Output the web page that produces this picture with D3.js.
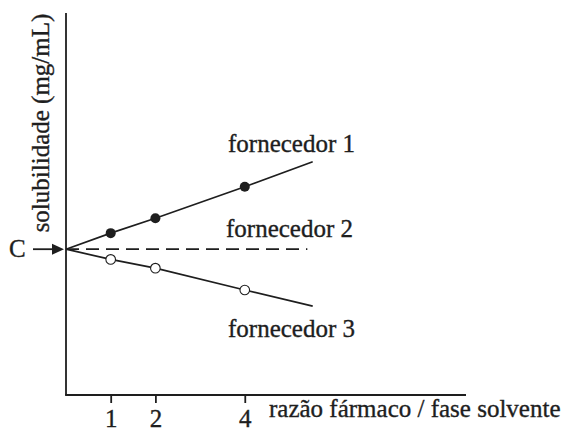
<!DOCTYPE html>
<html>
<head>
<meta charset="utf-8">
<script src="https://cdn.jsdelivr.net/npm/d3@7"></script>
<style>
  html, body { margin: 0; padding: 0; background: #fff; }
  svg text { font-family: "Liberation Serif", "Times New Roman", serif; fill: #1e1e1e; stroke: #1e1e1e; stroke-width: 0.35px; }
</style>
</head>
<body>
<svg id="chart" width="569" height="430"></svg>
<script>
// ---- data ----
const xTicks = [1, 2, 4];
const xTickLabels = ["1", "2", "4"];
const pointX = [1, 2, 4];
const supplier1 = [5.55, 6.06, 7.14];
const supplier3 = [4.65, 4.35, 3.60];
const startValue = 5.0;          // C
const lineEndX = 5.52;
const supplier1End = 8.0;
const supplier3End = 3.05;
const dashEndX = 5.4;
const seriesNames = ["fornecedor 1", "fornecedor 2", "fornecedor 3"];
const yTitle = "solubilidade (mg/mL)";
const xTitle = "razão fármaco / fase solvente";
const cLabel = "C";

// ---- scales ----
const svg = d3.select("#chart");
const x = d3.scaleLinear().domain([0, 8.95]).range([66, 466]);
const y = d3.scaleLinear().domain([0, 13.1]).range([395, 13]);
const ink = "#1e1e1e";

// axes lines
svg.append("line").attr("x1", x(0)).attr("x2", x(0)).attr("y1", y(13.1)).attr("y2", y(0))
  .attr("stroke", ink).attr("stroke-width", 1.8);
svg.append("line").attr("x1", x(0) - 0.9).attr("x2", x(8.95)).attr("y1", y(0)).attr("y2", y(0))
  .attr("stroke", ink).attr("stroke-width", 1.8);

// x ticks via d3 axis
const xAxis = d3.axisBottom(x).tickValues(xTicks).tickSize(8)
  .tickFormat((d, i) => xTickLabels[i]);
const gx = svg.append("g").attr("transform", `translate(0,${y(0)})`).call(xAxis);
gx.select(".domain").remove();
gx.selectAll(".tick line").attr("stroke", ink).attr("stroke-width", 1.8);
gx.selectAll(".tick text").attr("font-size", 25).attr("dy", 0).attr("y", 32)
  .style("font-family", "'Liberation Serif', serif").attr("fill", ink);

// lines
const line = d3.line().x(d => x(d[0])).y(d => y(d[1]));
const s1 = [[0, startValue], ...pointX.map((v, i) => [v, supplier1[i]]), [lineEndX, supplier1End]];
const s3 = [[0, startValue], ...pointX.map((v, i) => [v, supplier3[i]]), [lineEndX, supplier3End]];
svg.append("path").attr("d", line(s1)).attr("fill", "none").attr("stroke", ink).attr("stroke-width", 1.7);
svg.append("path").attr("d", line(s3)).attr("fill", "none").attr("stroke", ink).attr("stroke-width", 1.7);
svg.append("path").attr("d", line([[0, startValue], [dashEndX, startValue]]))
  .attr("fill", "none").attr("stroke", ink).attr("stroke-width", 1.7)
  .attr("stroke-dasharray", "13,7");

// markers
svg.selectAll(".p1").data(pointX).enter().append("circle")
  .attr("cx", d => x(d)).attr("cy", (d, i) => y(supplier1[i])).attr("r", 5)
  .attr("fill", ink);
svg.selectAll(".p3").data(pointX).enter().append("circle")
  .attr("cx", d => x(d)).attr("cy", (d, i) => y(supplier3[i])).attr("r", 4.8)
  .attr("fill", "#fff").attr("stroke", ink).attr("stroke-width", 1.1);

// series labels
const labelPos = [[228, 152], [226, 237], [228, 337]];
svg.selectAll(".lbl").data(seriesNames).enter().append("text")
  .attr("x", (d, i) => labelPos[i][0]).attr("y", (d, i) => labelPos[i][1])
  .attr("font-size", 25).text(d => d);

// y title
svg.append("text").attr("transform", `translate(49,123) rotate(-90)`)
  .attr("text-anchor", "middle").attr("font-size", 25).text(yTitle);

// x title
svg.append("text").attr("x", 269).attr("y", 417).attr("font-size", 25).text(xTitle);

// C with arrow
svg.append("text").attr("x", 9).attr("y", 257).attr("font-size", 25).text(cLabel);
svg.append("line").attr("x1", 33).attr("x2", 54).attr("y1", y(startValue)).attr("y2", y(startValue))
  .attr("stroke", ink).attr("stroke-width", 1.8);
svg.append("path")
  .attr("d", `M52,${y(startValue) - 5.5} L64,${y(startValue)} L52,${y(startValue) + 5.5} Z`)
  .attr("fill", ink);
</script>
</body>
</html>
